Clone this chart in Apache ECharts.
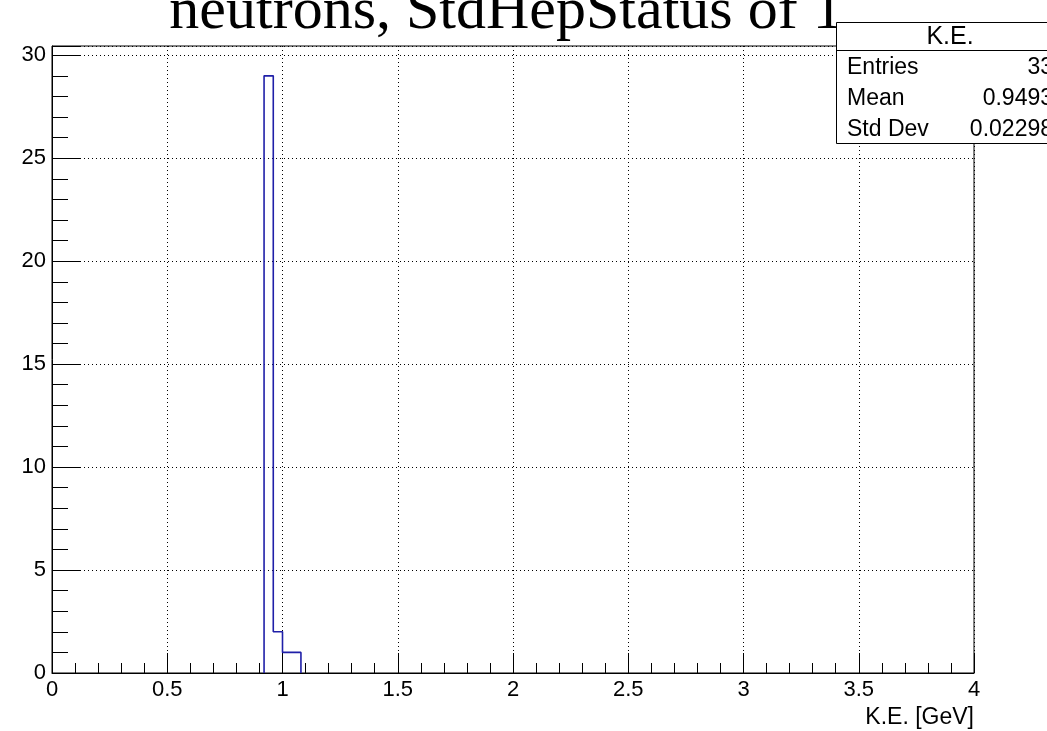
<!DOCTYPE html>
<html>
<head>
<meta charset="utf-8">
<script src="https://cdn.jsdelivr.net/npm/echarts@6/dist/echarts.min.js"></script>
<style>html,body{margin:0;padding:0;background:#fff;}#c{width:1047px;height:731px;}</style>
</head>
<body>
<div id="c"></div>
<script>
// Histogram data (bin width 0.04 GeV)
const binLow = [0.92, 0.96, 1.00, 1.04];
const binWidth = 0.04;
const counts = [29, 2, 1, 1];
const xTicks = [0, 0.5, 1, 1.5, 2, 2.5, 3, 3.5, 4];
const yTicks = [0, 5, 10, 15, 20, 25, 30];
const titleText = 'neutrons, StdHepStatus of 1';
const statsTitle = 'K.E.';
const statsLabels = ['Entries', 'Mean', 'Std Dev'];
const statsValues = ['33', '0.9493', '0.02298'];
const xAxisTitle = 'K.E. [GeV]';

// build step outline
const outline = [];
for (let i = 0; i < binLow.length; i++) {
  const lo = binLow[i], hi = lo + binWidth;
  if (i === 0) outline.push([lo, 0]);
  outline.push([lo, counts[i]]);
  outline.push([hi, counts[i]]);
}
outline.push([binLow[binLow.length - 1] + binWidth, 0]);

const chart = echarts.init(document.getElementById('c'), null, {renderer: 'canvas'});
const font = 'Liberation Sans, Arial, Helvetica, sans-serif';
const statsRows = [68, 99, 130];
const graphics = [
  {type: 'text', style: {text: titleText, x: 506, y: 42, textAlign: 'center', textVerticalAlign: 'bottom', font: '60px "Liberation Serif", "Times New Roman", serif', fill: '#000'}, z: 10},
  {type: 'rect', shape: {x: 836.5, y: 22.5, width: 240, height: 121}, style: {fill: '#fff', stroke: '#000', lineWidth: 1}, z: 20},
  {type: 'line', shape: {x1: 836.5, y1: 50.5, x2: 1060, y2: 50.5}, style: {stroke: '#000', lineWidth: 1}, z: 21},
  {type: 'text', style: {text: statsTitle, x: 950, y: 37, textAlign: 'center', textVerticalAlign: 'middle', font: '25px ' + font, fill: '#000'}, z: 22},
  {type: 'text', style: {text: xAxisTitle, x: 974, y: 718, textAlign: 'right', textVerticalAlign: 'middle', font: '23px ' + font, fill: '#000'}, z: 22}
];
statsLabels.forEach((l, i) => {
  graphics.push({type: 'text', style: {text: l, x: 847, y: statsRows[i], textAlign: 'left', textVerticalAlign: 'middle', font: '23px ' + font, fill: '#000'}, z: 22});
  graphics.push({type: 'text', style: {text: statsValues[i], x: 1053, y: statsRows[i], textAlign: 'right', textVerticalAlign: 'middle', font: '23px ' + font, fill: '#000'}, z: 22});
});

chart.setOption({
  animation: false,
  backgroundColor: '#fff',
  grid: {left: 52, right: 73, top: 46, bottom: 58, show: true, borderColor: '#000', borderWidth: 1, backgroundColor: 'transparent'},
  xAxis: {
    type: 'value', min: xTicks[0], max: xTicks[xTicks.length - 1], interval: 0.5,
    axisLine: {show: true, onZero: false, lineStyle: {color: '#000', width: 1}},
    axisTick: {show: true, inside: true, length: 20, lineStyle: {color: '#000'}},
    minorTick: {show: true, splitNumber: 5, length: 10, lineStyle: {color: '#000'}},
    axisLabel: {color: '#000', fontFamily: font, fontSize: 22, margin: 6, formatter: v => String(v)},
    splitLine: {show: true, lineStyle: {color: '#000', type: [1, 3], width: 1}}
  },
  yAxis: {
    type: 'value', min: yTicks[0], max: 30.45, interval: 5,
    axisLine: {show: true, onZero: false, lineStyle: {color: '#000', width: 1}},
    axisTick: {show: true, inside: true, length: 28, lineStyle: {color: '#000'}},
    minorTick: {show: true, splitNumber: 5, length: 16, lineStyle: {color: '#000'}},
    axisLabel: {color: '#000', fontFamily: font, fontSize: 22, margin: 6, showMaxLabel: false,
      formatter: v => (yTicks.indexOf(v) >= 0 ? String(v) : '')},
    splitLine: {show: true, lineStyle: {color: '#000', type: [1, 3], width: 1}}
  },
  series: [{
    type: 'line', data: outline, symbol: 'none', clip: true,
    lineStyle: {color: '#1f1fa8', width: 1.6}, z: 5
  }],
  graphic: graphics
});
</script>
</body>
</html>
